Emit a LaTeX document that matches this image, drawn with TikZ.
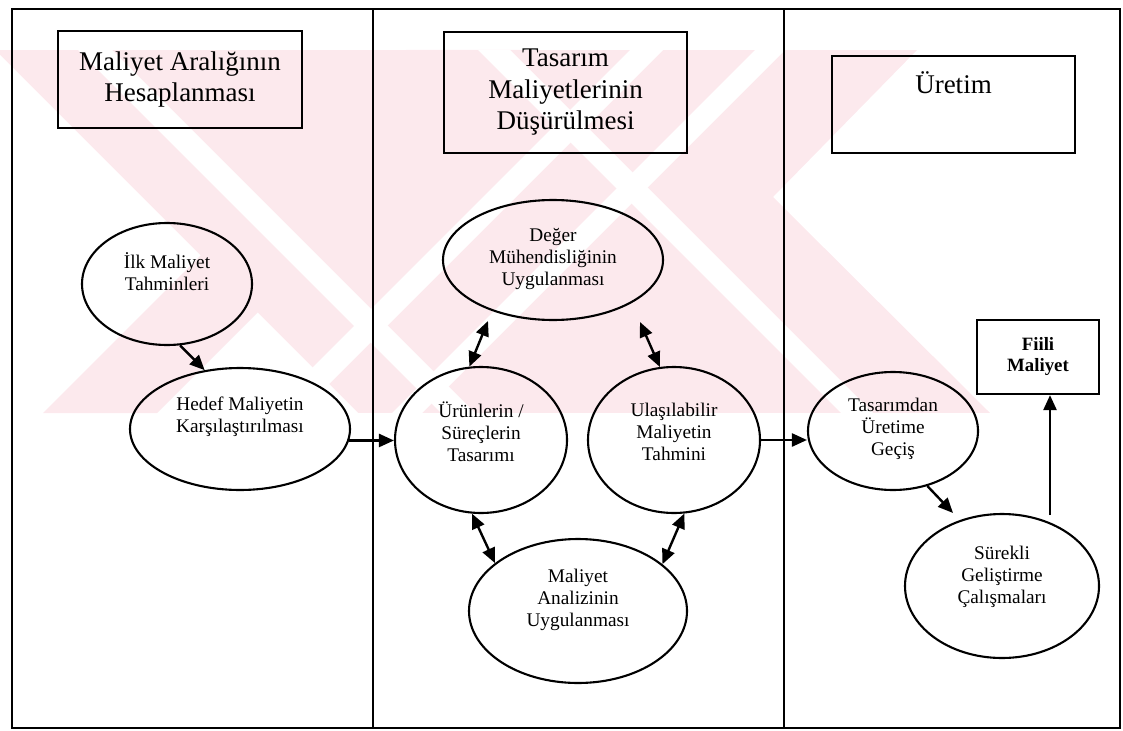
\documentclass[tikz,border=0pt]{standalone}
\usepackage{fontspec}
\setmainfont{Liberation Serif}
\usetikzlibrary{shapes.geometric,arrows.meta}
\definecolor{wm}{RGB}{252,233,237}
\begin{document}
\begin{tikzpicture}[x=1pt,y=-1pt,
  outline/.style={line width=2.4pt},
  hbox/.style={draw,line width=2.2pt,inner sep=0pt,align=center,font=\fontsize{27}{31.5}\selectfont},
  htext/.style={align=center,font=\fontsize{27}{31.5}\selectfont,inner sep=0pt},
  oval/.style={draw,ellipse,line width=2.1pt,inner sep=0pt},
  otext/.style={align=center,font=\fontsize{19.3}{22}\selectfont,inner sep=0pt},
  arr/.style={line width=2.4pt,-{Triangle[length=15pt,width=13pt]}},
  dbl/.style={line width=2.4pt,{Triangle[length=15pt,width=13pt]}-{Triangle[length=15pt,width=13pt]}},
  wstripe/.style={fill=white},
]
\useasboundingbox (0,0) rectangle (1123,730);

% background emblem: pale stripes at 45 degrees
\begin{scope}
  \clip (0,50) -- (917,50) -- (773,197) -- (990,413) -- (0,413) -- cycle;
  \fill[wm] (0,50) rectangle (1000,413);
  % lower-left clearing, crossed by a rising band
  \fill[wstripe] (-400,-345) -- (700,755) -- (-400,755) -- cycle;
  \fill[wm] (456,0) -- (570,0) -- (0,570) -- (0,456) -- cycle;
  % falling stripe
  \fill[wstripe] (28,0) -- (62,0) -- (562,500) -- (528,500) -- cycle;
  % rising stripes
  \fill[wstripe] (680,0) -- (713,0) -- (213,500) -- (180,500) -- cycle;
  \fill[wstripe] (805,0) -- (835,0) -- (335,500) -- (305,500) -- cycle;
  % falling stripe on the right
  \fill[wstripe] (428,0) -- (460,0) -- (960,500) -- (928,500) -- cycle;
\end{scope}

% swimlane frame
\draw[outline] (12,9) rectangle (1120,728);
\draw[outline] (373,9) -- (373,728);
\draw[outline] (784,9) -- (784,728);

% lane headers
\node[hbox,minimum width=244pt,minimum height=97pt] (h1) at (180,79.5) {Maliyet Aralığının\\Hesaplanması};
\node[hbox,minimum width=243pt,minimum height=121pt] (h2) at (565.5,92.5) {Tasarım\\Maliyetlerinin\\Düşürülmesi};
\node[hbox,minimum width=243pt,minimum height=97pt] (h3) at (953.5,104.5) {};
\node[htext] (h3t) at (953.5,83) {Üretim};

% process ellipses
\node[oval,minimum width=170pt,minimum height=122pt] (ilk) at (167,284) {};
\node[otext] (ilkt) at (167,272) {İlk Maliyet\\Tahminleri};
\node[oval,minimum width=220pt,minimum height=122pt] (hedef) at (240,429) {};
\node[otext] (hedeft) at (240,417) {Hedef Maliyetin\\Karşılaştırılması};
\node[oval,minimum width=220pt,minimum height=120pt] (deger) at (553,260) {};
\node[otext] (degert) at (553,259) {Değer\\Mühendisliğinin\\Uygulanması};
\node[oval,minimum width=172pt,minimum height=146pt] (urun) at (481,440) {};
\node[otext] (urunt) at (481,432) {Ürünlerin /\\Süreçlerin\\Tasarımı};
\node[oval,minimum width=172pt,minimum height=146pt] (ulas) at (674,440) {};
\node[otext] (ulast) at (674,432) {Ulaşılabilir\\Maliyetin\\Tahmini};
\node[oval,minimum width=218pt,minimum height=144pt] (analiz) at (578,611) {};
\node[otext] (analizt) at (578,600) {Maliyet\\Analizinin\\Uygulanması};
\node[oval,minimum width=170pt,minimum height=118pt] (gecis) at (893,431) {};
\node[otext] (gecist) at (893,429) {Tasarımdan\\Üretime\\Geçiş};
\node[oval,minimum width=194pt,minimum height=144pt] (surekli) at (1002,586) {};
\node[otext] (sureklit) at (1002,577) {Sürekli\\Geliştirme\\Çalışmaları};
\node[draw,line width=2.2pt,minimum width=122pt,minimum height=74pt,inner sep=0pt,align=center,
      font=\fontsize{18.8}{21}\selectfont\bfseries] (fiili) at (1038,357) {Fiili\\Maliyet};

% free arrow ends
\coordinate (dv1) at (488,321);
\coordinate (dv2) at (640,322);
\coordinate (gs) at (953,513);
\coordinate (sf) at (1050,515);

% connectors
\draw[arr] (ilk.282) -- (hedef.121);
\draw[arr] (hedef.-6) -- (hedef.-6 -| urun.west);
\draw[arr] (ulas.east) -- (ulas.east -| gecis.west);
\draw[arr] (gecis.302) -- (gs);
\draw[arr] (sf) -- (sf |- fiili.south);
\draw[dbl] (dv1) -- (urun.99);
\draw[dbl] (dv2) -- (ulas.101);
\draw[dbl] (urun.263) -- (analiz.150);
\draw[dbl] (ulas.278) -- (analiz.29);
\end{tikzpicture}
\end{document}
